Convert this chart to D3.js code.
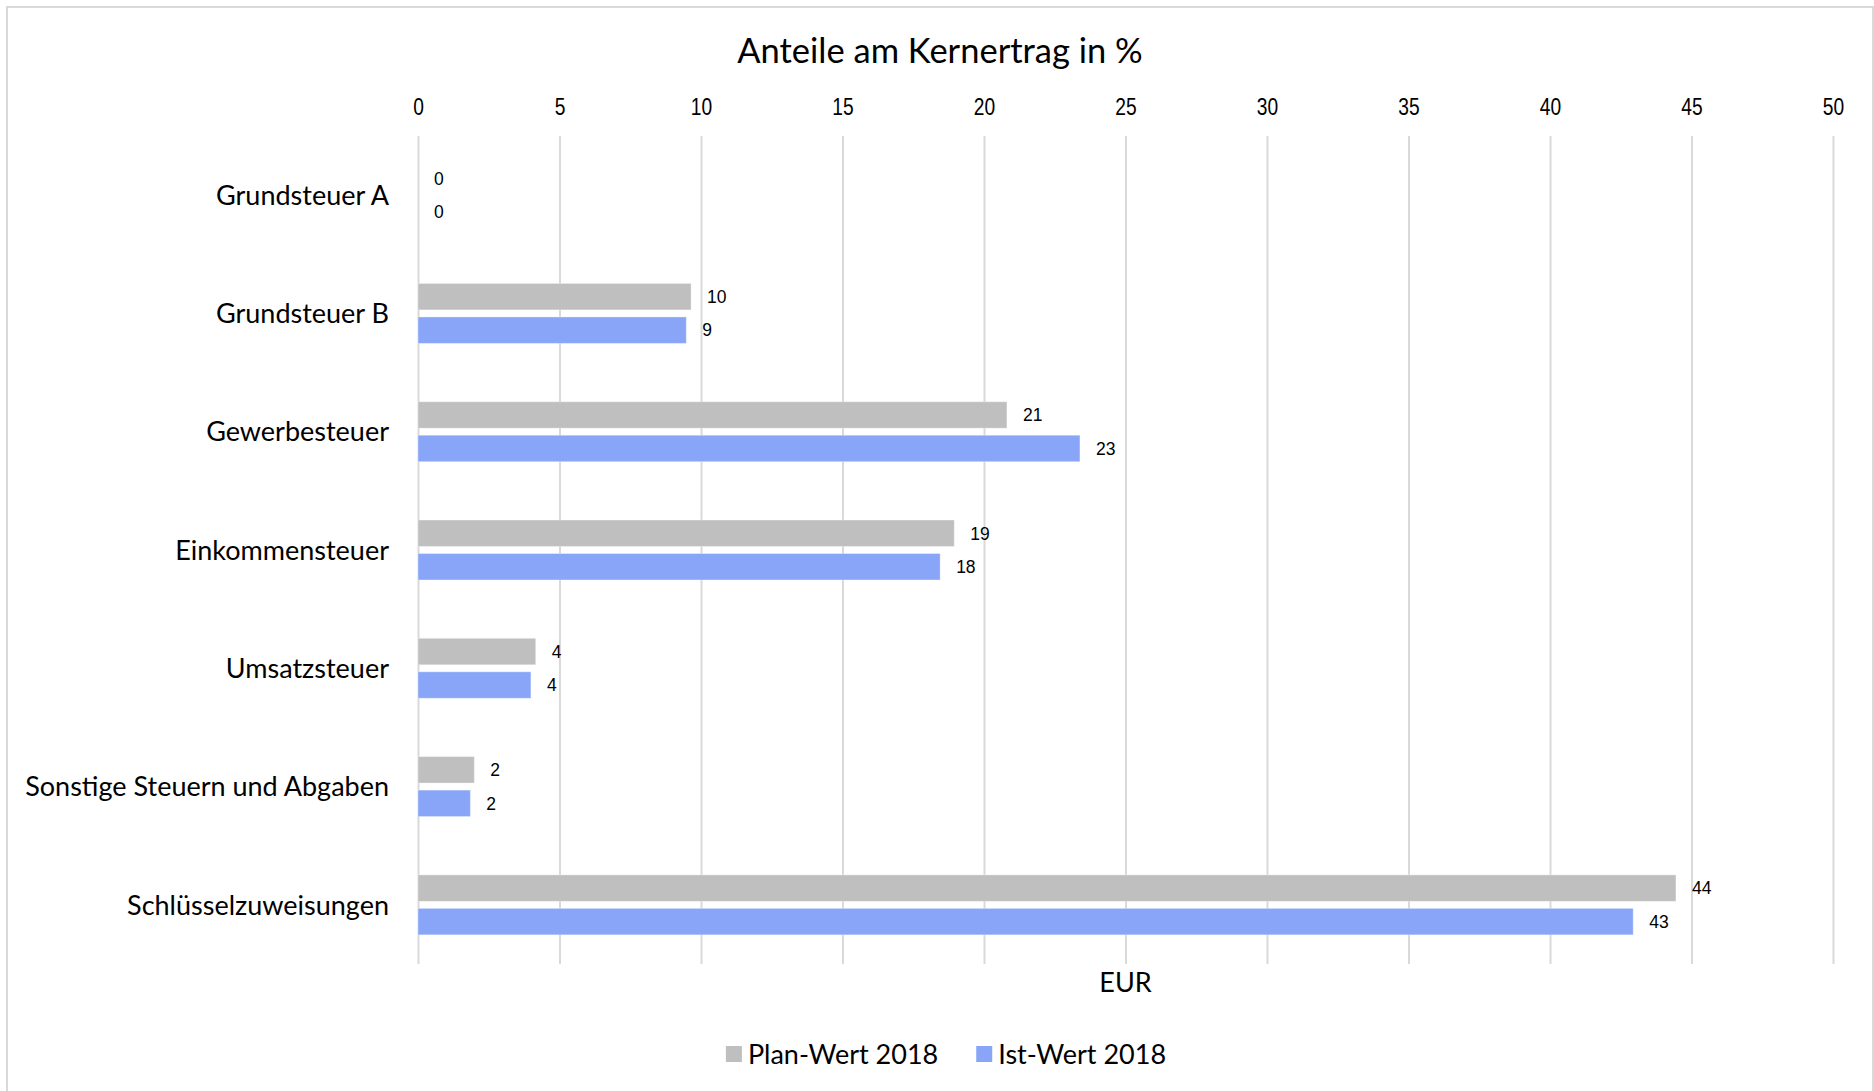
<!DOCTYPE html>
<html>
<head>
<meta charset="utf-8">
<script src="https://cdn.jsdelivr.net/npm/d3@7"></script>
<style>
  html, body { margin: 0; padding: 0; background: #ffffff; }
  svg { display: block; }
</style>
</head>
<body>
<svg id="chart" width="1874" height="1091"></svg>
<script>
// Shares of core revenue, plan vs. actual 2018 (percent)
const categories = [
  "Grundsteuer A",
  "Grundsteuer B",
  "Gewerbesteuer",
  "Einkommensteuer",
  "Umsatzsteuer",
  "Sonstige Steuern und Abgaben",
  "Schlüsselzuweisungen"
];
const seriesNames = ["Plan-Wert 2018", "Ist-Wert 2018"];
const planValues = [0, 9.65, 20.81, 18.95, 4.16, 1.99, 44.45];
const istValues  = [0, 9.48, 23.39, 18.45, 3.99, 1.85, 42.94];
const xTicks = [0, 5, 10, 15, 20, 25, 30, 35, 40, 45, 50];
const chartTitle = "Anteile am Kernertrag in %";
const axisTitle = "EUR";

const seriesColors = ["#bfbfbf", "#88a5f8"];
const labelFont = "Lato, 'Open Sans', sans-serif";
const numberFont = "'Liberation Sans', Arial, sans-serif";

const svg = d3.select("#chart");
const W = 1874, H = 1091;

const plot = { left: 418, right: 1833, top: 136, bottom: 964 };

// outer frame of the chart area
svg.append("rect")
  .attr("x", 7).attr("y", 7)
  .attr("width", W - 8).attr("height", H + 20)
  .attr("fill", "#ffffff")
  .attr("stroke", "#d9d9d9")
  .attr("stroke-width", 2);

const x = d3.scaleLinear().domain([0, 50]).range([plot.left, plot.right]);
const y = d3.scaleBand().domain(categories).range([plot.top, plot.bottom]).padding(0);
const ySeries = d3.scaleBand().domain(seriesNames)
  .range([0, y.bandwidth()]).paddingInner(0.21).paddingOuter(0.87);

// vertical gridlines + top tick labels
const xAxis = d3.axisTop(x)
  .tickValues(xTicks)
  .tickSize(-(plot.bottom - plot.top))
  .tickPadding(0)
  .tickFormat(d3.format("d"));

const gx = svg.append("g")
  .attr("transform", `translate(0,${plot.top})`)
  .call(xAxis);
gx.select(".domain").remove();
gx.selectAll(".tick line")
  .attr("stroke", "#d9d9d9")
  .attr("stroke-width", 2);
gx.selectAll(".tick text")
  .attr("y", 115.2 - plot.top)
  .attr("dy", 0)
  .attr("transform", "scale(0.8,1)")
  .attr("fill", "#000000")
  .style("font-family", numberFont)
  .style("font-size", "24px");

// category labels on the left
const catSize = 27;
svg.append("g").selectAll("text")
  .data(categories)
  .join("text")
  .attr("x", 389)
  .attr("y", d => y(d) + y.bandwidth() / 2 + catSize * 0.36)
  .attr("text-anchor", "end")
  .attr("fill", "#000000")
  .style("font-family", labelFont)
  .style("font-size", catSize + "px")
  .text(d => d);

// bars
const rows = categories.map((c, i) => ({
  category: c,
  values: [
    { series: seriesNames[0], value: planValues[i] },
    { series: seriesNames[1], value: istValues[i] }
  ]
}));

const groups = svg.append("g").selectAll("g")
  .data(rows)
  .join("g")
  .attr("transform", d => `translate(0,${y(d.category)})`);

groups.selectAll("rect")
  .data(d => d.values)
  .join("rect")
  .attr("x", x(0))
  .attr("y", d => ySeries(d.series))
  .attr("width", d => x(d.value) - x(0))
  .attr("height", ySeries.bandwidth())
  .attr("fill", (d, i) => seriesColors[i])
  .attr("stroke", "rgba(255,255,255,0.35)")
  .attr("stroke-width", 1);

groups.selectAll("text")
  .data(d => d.values)
  .join("text")
  .attr("x", d => x(d.value) + 16)
  .attr("y", d => ySeries(d.series) + ySeries.bandwidth() / 2 + 17.5 * 0.36)
  .attr("fill", "#000000")
  .style("font-family", numberFont)
  .style("font-size", "17.5px")
  .text(d => d3.format(".0f")(d.value));

// title
svg.append("text")
  .attr("x", 940)
  .attr("y", 62.7)
  .attr("text-anchor", "middle")
  .attr("fill", "#000000")
  .style("font-family", labelFont)
  .style("font-size", "34.5px")
  .text(chartTitle);

// axis title
svg.append("text")
  .attr("x", x(25))
  .attr("y", 982 + catSize * 0.36)
  .attr("text-anchor", "middle")
  .attr("fill", "#000000")
  .style("font-family", labelFont)
  .style("font-size", catSize + "px")
  .text(axisTitle);

// legend
const legend = svg.append("g");
const legendItems = legend.selectAll("g")
  .data(seriesNames)
  .join("g");
legendItems.append("rect")
  .attr("x", 0).attr("y", -8)
  .attr("width", 16).attr("height", 16)
  .attr("fill", (d, i) => seriesColors[i]);
legendItems.append("text")
  .attr("x", 22)
  .attr("y", catSize * 0.36)
  .attr("fill", "#000000")
  .style("font-family", labelFont)
  .style("font-size", catSize + "px")
  .text(d => d);

let offset = 0;
const itemGap = 38;
legendItems.each(function () {
  const g = d3.select(this);
  g.attr("transform", `translate(${offset},0)`);
  const w = 22 + g.select("text").node().getComputedTextLength();
  offset += w + itemGap;
});
const legendWidth = offset - itemGap;
legend.attr("transform", `translate(${946 - legendWidth / 2},1054)`);
</script>
</body>
</html>
